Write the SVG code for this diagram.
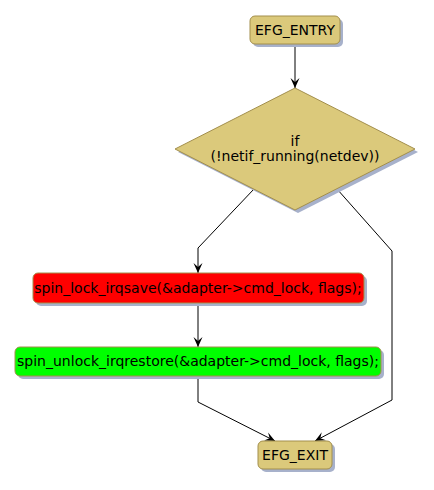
<svg xmlns="http://www.w3.org/2000/svg" width="434" height="490" viewBox="0 0 434 490">
<style>
text{font-family:"DejaVu Sans",Verdana,sans-serif;font-size:14px;fill:#000;text-anchor:middle}
.tan{fill:#DBC97B;stroke:#A38F4D;stroke-width:1}
.sh{fill:#A7B1CB}
.ln{fill:none;stroke:#000;stroke-width:1}
</style>
<defs>
<marker id="ah" markerWidth="12" markerHeight="12" viewBox="-11 -6 12 12" refX="0" refY="0" orient="auto" markerUnits="userSpaceOnUse" overflow="visible">
<path d="M0,0 L-10,-4.5 L-6,0 L-10,4.5 Z" fill="#000"/>
</marker>
</defs>
<g id="connectors">
<path class="ln" d="M295,44 L295,88" marker-end="url(#ah)"/>
<path class="ln" d="M254,189 L198,248 L198,273" marker-end="url(#ah)"/>
<path class="ln" d="M198,303 L198,347" marker-end="url(#ah)"/>
<path class="ln" d="M198,376 L198,402 L275,441" marker-end="url(#ah)"/>
<path class="ln" d="M337,189 L392,251 L392,400 L315,441" marker-end="url(#ah)"/>
</g>
<g id="entry">
<rect class="sh" x="253" y="19" width="90" height="28" rx="5"/>
<rect class="tan" x="250" y="16" width="90" height="28" rx="5"/>
<text x="295" y="35">EFG_ENTRY</text>
</g>
<g id="decision">
<polygon class="sh" points="298,91 418,152 298,213 178,152"/>
<polygon class="tan" points="295,88 415,149 295,210 175,149"/>
<text x="295" y="146">if</text>
<text x="295" y="161">(!netif_running(netdev))</text>
</g>
<g id="lock">
<rect class="sh" x="36" y="276" width="331" height="30" rx="5"/>
<rect x="33" y="273" width="331" height="30" rx="5" fill="#FF0000" stroke="#A38F4D"/>
<text x="198" y="293">spin_lock_irqsave(&amp;adapter-&gt;cmd_lock, flags);</text>
</g>
<g id="unlock">
<rect class="sh" x="18" y="350" width="366" height="29" rx="5"/>
<rect x="15" y="347" width="366" height="29" rx="5" fill="#00FF00" stroke="#A38F4D"/>
<text x="198" y="366">spin_unlock_irqrestore(&amp;adapter-&gt;cmd_lock, flags);</text>
</g>
<g id="exit">
<rect class="sh" x="261" y="444" width="74" height="28" rx="5"/>
<rect class="tan" x="258" y="441" width="74" height="28" rx="5"/>
<text x="295" y="460">EFG_EXIT</text>
</g>
</svg>
